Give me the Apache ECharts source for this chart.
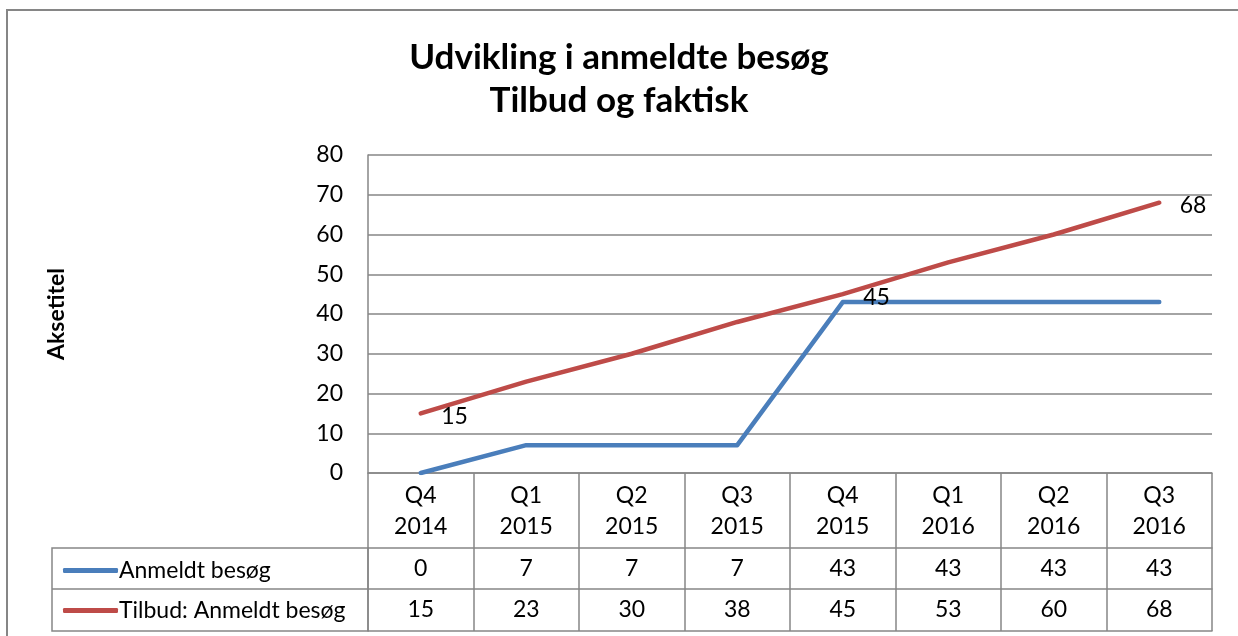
<!DOCTYPE html>
<html>
<head>
<meta charset="utf-8">
<script src="https://cdn.jsdelivr.net/npm/echarts@6/dist/echarts.min.js"></script>
<style>
  html, body { margin: 0; padding: 0; background: #fff; }
  #main { width: 1238px; height: 636px; }
</style>
</head>
<body>
<div id="main"></div>
<script>
// data
var categories = ['Q4\n2014', 'Q1\n2015', 'Q2\n2015', 'Q3\n2015', 'Q4\n2015', 'Q1\n2016', 'Q2\n2016', 'Q3\n2016'];
var anmeldt = [0, 7, 7, 7, 43, 43, 43, 43];
var tilbud = [15, 23, 30, 38, 45, 53, 60, 68];
var tilbudLabelIdx = [0, 4, 7];   // points that carry a data label
var yTicks = [0, 10, 20, 30, 40, 50, 60, 70, 80];
var seriesNames = ['Anmeldt besøg', 'Tilbud: Anmeldt besøg'];

var FONT = 'Lato';
var FS = 23;
var GRAY = '#868686';
var BLUE = '#4A7EBB';
var RED = '#BE4B48';

var myChart = echarts.init(document.getElementById('main'));

// extra x axes used as rows of the data table
function tableRow(offset, values, tickLen) {
    return {
        type: 'category',
        gridIndex: 0,
        position: 'bottom',
        offset: offset,
        data: categories,
        boundaryGap: true,
        axisLine: { show: true, lineStyle: { color: GRAY, width: 1.5 } },
        axisTick: { show: tickLen > 0, interval: 0, length: tickLen, lineStyle: { color: GRAY, width: 1.5 } },
        axisLabel: {
            show: !!values,
            interval: 0,
            margin: 9,
            fontFamily: FONT, fontSize: FS, color: '#000',
            formatter: function (v, i) { return values ? String(values[i]) : ''; }
        },
        splitLine: { show: false }
    };
}

myChart.setOption({
    animation: false,
    title: {
        text: 'Udvikling i anmeldte besøg\nTilbud og faktisk',
        left: 'center',
        top: 31,
        textStyle: { fontFamily: FONT, fontSize: 35, fontWeight: 'bold', color: '#000', lineHeight: 43 }
    },
    legend: {
        orient: 'vertical',
        left: 58,
        top: 554,
        itemGap: 17,
        itemWidth: 55,
        itemHeight: 5,
        icon: 'roundRect',
        data: seriesNames,
        textStyle: { fontFamily: FONT, fontSize: FS, color: '#000', padding: [0, 0, 0, -4] }
    },
    grid: { left: 368, right: 26, top: 155, bottom: 163, containLabel: false },
    xAxis: [
        {
            type: 'category',
            position: 'bottom',
            data: categories,
            boundaryGap: true,
            axisLine: { show: true, lineStyle: { color: GRAY, width: 1.5 } },
            axisTick: { show: true, interval: 0, length: 75, lineStyle: { color: GRAY, width: 1.5 } },
            axisLabel: { interval: 0, margin: 7, fontFamily: FONT, fontSize: FS, lineHeight: 31, color: '#000' },
            splitLine: { show: false }
        },
        tableRow(75, anmeldt, 41),
        tableRow(116, tilbud, 42),
        tableRow(158, null, 0)
    ],
    yAxis: {
        type: 'value',
        min: yTicks[0],
        max: yTicks[yTicks.length - 1],
        interval: 10,
        name: 'Aksetitel',
        nameLocation: 'middle',
        nameRotate: 90,
        nameGap: 300,
        nameTextStyle: { fontFamily: FONT, fontSize: 23, fontWeight: 'bold', color: '#000' },
        axisLine: { show: true, lineStyle: { color: GRAY, width: 1.5 } },
        axisTick: { show: false },
        axisLabel: { margin: 25, fontFamily: FONT, fontSize: FS, color: '#000' },
        splitLine: { show: true, lineStyle: { color: GRAY, width: 1.5 } }
    },
    series: [
        {
            name: seriesNames[0],
            type: 'line',
            data: anmeldt,
            color: BLUE,
            showSymbol: false,
            lineStyle: { width: 4.5, color: BLUE, cap: 'round', join: 'round' }
        },
        {
            name: seriesNames[1],
            type: 'line',
            color: RED,
            symbol: 'circle',
            symbolSize: 1,
            data: tilbud.map(function (v, i) {
                return {
                    value: v,
                    label: { show: tilbudLabelIdx.indexOf(i) >= 0 }
                };
            }),
            label: {
                position: 'right',
                distance: 20,
                offset: [0, 3],
                fontFamily: FONT, fontSize: FS, color: '#000'
            },
            lineStyle: { width: 4.5, color: RED, cap: 'round', join: 'round' }
        }
    ],
    graphic: [
        // outer chart frame
        { type: 'rect', shape: { x: 7, y: 10, width: 1300, height: 700 }, style: { fill: 'none', stroke: GRAY, lineWidth: 2 }, silent: true },
        // legend cells of the data table
        { type: 'rect', shape: { x: 52, y: 548, width: 316, height: 83 }, style: { fill: 'none', stroke: GRAY, lineWidth: 1.5 }, silent: true },
        { type: 'line', shape: { x1: 52, y1: 589, x2: 368, y2: 589 }, style: { stroke: GRAY, lineWidth: 1.5 }, silent: true }
    ]
});
</script>
</body>
</html>
